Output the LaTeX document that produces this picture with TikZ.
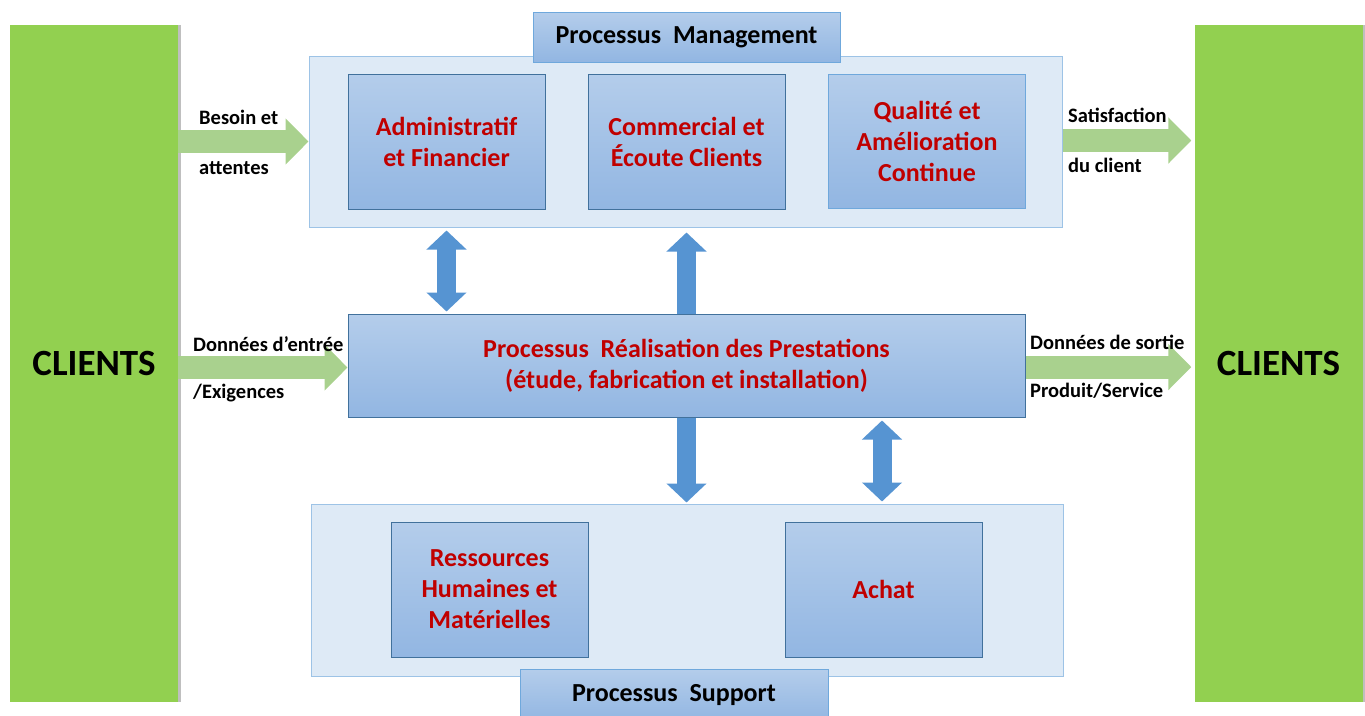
\documentclass[tikz,border=0pt]{standalone}
\usepackage{fontspec}
\setmainfont{Carlito}
\usetikzlibrary{arrows.meta,shadows}
\definecolor{cgreen}{HTML}{92D050}
\definecolor{lightbg}{HTML}{DEEAF6}
\definecolor{outerb}{HTML}{9DC3E6}
\definecolor{ptop}{HTML}{B4CDEB}
\definecolor{pbot}{HTML}{92B6E2}
\definecolor{pborder}{HTML}{41719C}
\definecolor{pborderl}{HTML}{6FA8DC}
\definecolor{tborder}{HTML}{6FA8DC}
\definecolor{dred}{HTML}{C00000}
\definecolor{barrow}{HTML}{5694D2}
\definecolor{garrow}{HTML}{A9D18E}
\tikzset{
  client/.style={fill=cgreen, minimum width=168pt, minimum height=677pt, inner sep=0pt,
    font=\fontsize{37}{42}\selectfont\bfseries,
    drop shadow={shadow xshift=3pt, shadow yshift=0pt, opacity=.25, fill=black}},
  group/.style={fill=lightbg, draw=outerb, line width=1pt, inner sep=0pt},
  proc/.style={top color=ptop, bottom color=pbot, draw=pborder, line width=1pt, inner sep=0pt,
    text=dred, align=center, font=\fontsize{26}{31}\selectfont\bfseries},
  tab/.style={top color=ptop, bottom color=pbot, draw=tborder, line width=1pt, inner sep=0pt,
    font=\fontsize{26}{31}\selectfont\bfseries},
  lbl/.style={anchor=west, inner sep=0pt, font=\fontsize{20.5}{24}\selectfont\bfseries},
  garr/.style={draw=garrow, line width=23pt, -{Triangle[width=45pt,length=23pt]}},
  barr/.style={draw=barrow, line width=19pt, -{Triangle[width=39pt,length=19pt]}},
  bdarr/.style={draw=barrow, line width=19pt, {Triangle[width=39pt,length=19pt]}-{Triangle[width=39pt,length=19pt]}}
}
\begin{document}
\begin{tikzpicture}[x=1pt,y=-1pt]
\useasboundingbox (0,0) rectangle (1365,715);
\clip (0,0) rectangle (1365,715);

% clients
\node[client] (cl) at (94,363.5) {CLIENTS};
\node[client] (cr) at (1278.5,363.5) {CLIENTS};

% management group
\node[group, minimum width=753pt, minimum height=171pt] (mg) at (685.5,141.5) {};
\node[tab, minimum width=307pt, minimum height=50pt] (mtab) at (686.5,37) {Processus~~Management};
\node[proc, minimum width=197pt, minimum height=135pt] (adm) at (446.5,141.5) {Administratif\\et Financier};
\node[proc, minimum width=197pt, minimum height=135pt] (com) at (686.5,141.5) {Commercial et\\Écoute Clients};
\node[proc, draw=pborderl, minimum width=197pt, minimum height=134pt] (qua) at (927,141.5) {Qualité et\\Amélioration\\Continue};

% realisation
\node[proc, minimum width=677pt, minimum height=103pt] (real) at (686.5,365.5) {Processus~~Réalisation des Prestations\\(étude, fabrication et installation)};

% support group
\node[group, minimum width=752pt, minimum height=172pt] (sp) at (687,590) {};
\node[proc, minimum width=197pt, minimum height=135pt] (rh) at (489.5,589.5) {Ressources\\Humaines et\\Matérielles};
\node[proc, minimum width=197pt, minimum height=135pt] (ach) at (883.5,589.5) {Achat};
\node[tab, minimum width=308pt, minimum height=52pt] (stab) at (674,695) {Processus~~Support};

% green arrows
\draw[garr] (cl.east |- 0,141.5) -- (mg.west |- 0,141.5);
\draw[garr] (mg.east |- 0,140.5) -- ([xshift=-3pt]cr.west |- 0,140.5);
\draw[garr] (cl.east |- 0,367.5) -- (real.west |- 0,367.5);
\draw[garr] (real.east |- 0,367) -- ([xshift=-3pt]cr.west |- 0,367);

% labels
\node[lbl] (l1) at (199,117) {Besoin et};
\node[lbl] (l2) at (199,168) {attentes};
\node[lbl] (l3) at (1068,115) {Satisfaction};
\node[lbl] (l4) at (1068,165) {du client};
\node[lbl] (l5) at (193,344) {Données d’entrée};
\node[lbl] (l6) at (193,393) {/Exigences};
\node[lbl] (l7) at (1030,342) {Données de sortie};
\node[lbl] (l8) at (1030,391) {Produit/Service};

% blue arrows
\draw[bdarr] ([yshift=-3pt]mg.south -| 446.5,0) -- ([yshift=2pt]real.north -| 446.5,0);
\draw[barr] (real.north -| 686.5,0) -- ([yshift=-5pt]mg.south -| 686.5,0);
\draw[barr] (real.south -| 686.5,0) -- ([yshift=1pt]sp.north -| 686.5,0);
\draw[bdarr] ([yshift=-3pt]real.south -| 882,0) -- ([yshift=2pt]sp.north -| 882,0);
\end{tikzpicture}
\end{document}
